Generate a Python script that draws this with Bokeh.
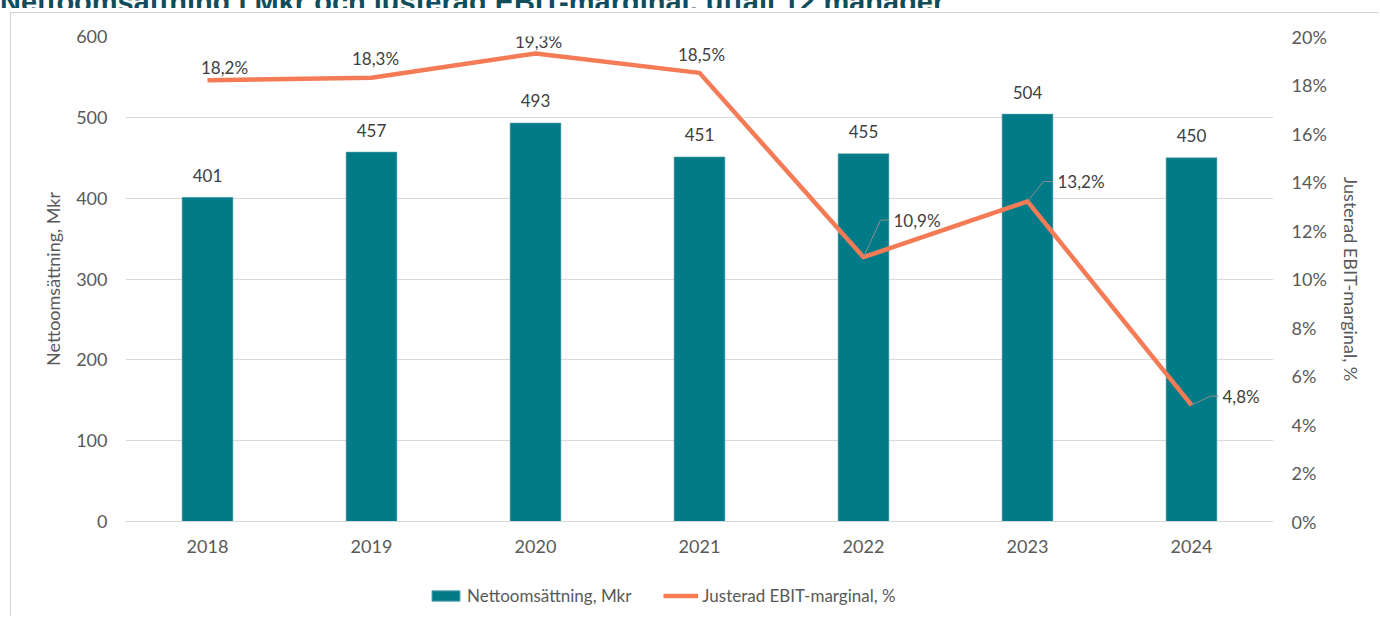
from bokeh.plotting import figure
from bokeh.layouts import column
from bokeh.models import (Range1d, LinearAxis, SingleIntervalTicker, FixedTicker,
                          PrintfTickFormatter, Legend, LegendItem, ColumnDataSource, Div)
from bokeh.core.properties import value
from bokeh.embed import file_html
from bokeh.resources import INLINE

# ---- data ----
years = ["2018", "2019", "2020", "2021", "2022", "2023", "2024"]
revenue = [401, 457, 493, 451, 455, 504, 450]
ebit_margin = [18.2, 18.3, 19.3, 18.5, 10.9, 13.2, 4.8]
revenue_labels = [str(v) for v in revenue]
margin_labels = [f"{v:.1f}".replace(".", ",") + "%" for v in ebit_margin]

title_text = "Nettoomsättning i Mkr och justerad EBIT-marginal, utfall 12 månader"
left_title = "Nettoomsättning, Mkr"
right_title = "Justerad EBIT-marginal, %"
legend_labels = ["Nettoomsättning, Mkr", "Justerad EBIT-marginal, %"]

# ---- style ----
TEAL = "#017B87"
ORANGE = "#F47B55"
GRID = "#D9D9D9"
TICK = "#595959"
LBL = "#404040"
FONT = "Lato"
BOX = "1px solid #D4D4D4"

x = list(range(len(years)))

title_div = Div(
    text=('<div style="margin-top:-18px;font-family:\'Liberation Sans\';font-weight:bold;'
          'font-size:29px;line-height:30px;color:#0F4C5C;white-space:nowrap;">'
          + title_text + '</div>'),
    width=1380, height=8, margin=0, styles={"overflow": "hidden"})

p = figure(width=1368, height=552, output_backend="svg", toolbar_location=None,
           x_range=Range1d(-0.5, 6.5), y_range=Range1d(0, 600),
           min_border_left=114, min_border_right=106, min_border_top=23,
           min_border_bottom=44, margin=(4, 0, 0, 10),
           styles={"border-left": BOX, "border-top": BOX})
p.outline_line_color = None
p.background_fill_color = "white"
p.border_fill_color = "white"

p.extra_y_ranges = {"pct": Range1d(0, 20)}

# bars
src = ColumnDataSource(dict(x=x, rev=revenue, lab=revenue_labels))
bars = p.vbar(x="x", top="rev", width=0.31, source=src, fill_color=TEAL,
              line_color="#5FA8B0", line_width=0.6)
p.text(x="x", y="rev", text="lab", source=src, text_align="center",
       text_baseline="middle", y_offset=-22, text_font=value(FONT),
       text_font_size="17px", text_color=LBL)

# line
lsrc = ColumnDataSource(dict(x=x, m=ebit_margin))
line = p.line(x="x", y="m", source=lsrc, line_color=ORANGE, line_width=4.5,
              y_range_name="pct", line_join="round")

# labels above points for first four years
above_offsets = [(17, -13), (4, -19), (3, -12), (2, -18)]
for i in range(4):
    p.text(x=[x[i]], y=[ebit_margin[i]], text=[margin_labels[i]], y_range_name="pct",
           text_align="center", text_baseline="middle",
           x_offset=above_offsets[i][0], y_offset=above_offsets[i][1],
           text_font=value(FONT), text_font_size="17px", text_color=LBL)

# labels with leader lines for last three years (dx in category units, dy in %)
leader = {4: (0.104, 1.53, 0.049, 0.183), 5: (0.098, 0.82, 0.055, 0.183),
          6: (0.116, 0.37, 0.049, 0.189)}
for i, (dx, dy, hl, tx) in leader.items():
    xi, yi = x[i], ebit_margin[i]
    p.line(x=[xi, xi + dx, xi + dx + hl], y=[yi, yi + dy, yi + dy],
           y_range_name="pct", line_color="#8C8C8C", line_width=1)
    p.text(x=[xi + tx], y=[yi + dy], text=[margin_labels[i]], y_range_name="pct",
           text_align="left", text_baseline="middle", text_font=value(FONT),
           text_font_size="17px", text_color=LBL)

# axes
p.yaxis.ticker = SingleIntervalTicker(interval=100)
p.yaxis.axis_line_color = None
p.yaxis.major_tick_line_color = None
p.yaxis.minor_tick_line_color = None
p.yaxis.major_label_standoff = 12
p.yaxis.major_label_text_font = FONT
p.yaxis.major_label_text_font_size = "18px"
p.yaxis.major_label_text_color = TICK
p.yaxis.axis_label = left_title
p.yaxis.axis_label_text_font = FONT
p.yaxis.axis_label_text_font_style = "normal"
p.yaxis.axis_label_text_font_size = "18px"
p.yaxis.axis_label_text_color = TICK
p.yaxis.axis_label_standoff = 9

ry = LinearAxis(y_range_name="pct", ticker=SingleIntervalTicker(interval=2),
                formatter=PrintfTickFormatter(format="%d%%"))
ry.axis_line_color = None
ry.major_tick_line_color = None
ry.minor_tick_line_color = None
ry.major_label_standoff = 12
ry.major_label_text_font = FONT
ry.major_label_text_font_size = "18px"
ry.major_label_text_color = TICK
ry.axis_label = right_title
ry.axis_label_text_font = FONT
ry.axis_label_text_font_style = "normal"
ry.axis_label_text_font_size = "18px"
ry.axis_label_text_color = TICK
ry.axis_label_standoff = 10
p.add_layout(ry, "right")

p.xaxis.ticker = FixedTicker(ticks=x)
p.xaxis.major_label_overrides = {i: y for i, y in zip(x, years)}
p.xaxis.axis_line_color = GRID
p.xaxis.major_tick_line_color = None
p.xaxis.minor_tick_line_color = None
p.xaxis.major_label_standoff = 12
p.xaxis.major_label_text_font = FONT
p.xaxis.major_label_text_font_size = "18px"
p.xaxis.major_label_text_color = TICK

p.xgrid.grid_line_color = None
p.ygrid.ticker = SingleIntervalTicker(interval=100)
p.ygrid.grid_line_color = GRID
p.ygrid.grid_line_width = 1

# legend strip (separate figure so the legend is not clipped);
# its two proxy renderers sit outside the strip's visible range
lf = figure(width=1368, height=52, output_backend="svg", toolbar_location=None,
            x_range=Range1d(0, 1), y_range=Range1d(0, 1),
            min_border=0, margin=(0, 0, 0, 10), styles={"border-left": BOX})
lf.axis.visible = False
lf.grid.visible = False
lf.outline_line_color = None
lf.border_fill_color = "white"
lb = lf.vbar(x=[-5], top=[-5], width=0.1, fill_color=TEAL, line_color="#5FA8B0")
ll = lf.line(x=[-6, -5], y=[-5, -5], line_color=ORANGE, line_width=4.5)

legend = Legend(items=[LegendItem(label=legend_labels[0], renderers=[lb]),
                       LegendItem(label=legend_labels[1], renderers=[ll])],
                orientation="horizontal", location=(303, 10))
legend.border_line_color = None
legend.background_fill_alpha = 0
legend.label_text_font = FONT
legend.label_text_font_size = "17px"
legend.label_text_color = TICK
legend.glyph_width = 35
legend.glyph_height = 13
legend.spacing = 32
legend.padding = 4
legend.margin = 0
legend.label_standoff = 4
lf.add_layout(legend, "center")

layout = column(title_div, p, lf, spacing=0)
open("out.html", "w").write(file_html(layout, INLINE))
